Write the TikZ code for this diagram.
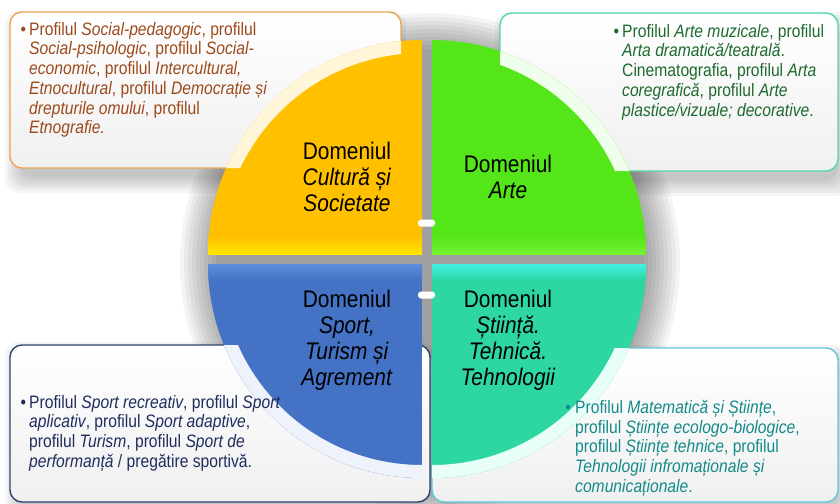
\documentclass[tikz,border=0pt]{standalone}
\usepackage{fontspec}
\setmainfont{Liberation Sans}[FakeStretch=0.87]

\definecolor{gold}{HTML}{FFC000}
\definecolor{goldlight}{HTML}{FFE600}
\definecolor{goldrim}{HTML}{FFF6DA}
\definecolor{arts}{HTML}{55E619}
\definecolor{artslight}{HTML}{72F232}
\definecolor{artsrim}{HTML}{F0FFEC}
\definecolor{sport}{HTML}{4472C4}
\definecolor{sportlight}{HTML}{5E8EDC}
\definecolor{sportrim}{HTML}{EEF2FA}
\definecolor{science}{HTML}{2ED6A2}
\definecolor{sciencelight}{HTML}{40F0E6}
\definecolor{sciencerim}{HTML}{E8FFF8}
\definecolor{culturebd}{HTML}{EBA653}
\definecolor{artsbd}{HTML}{52D8A4}
\definecolor{sportbd}{HTML}{2B4470}
\definecolor{sciencebd}{HTML}{5EC8D8}
\definecolor{culturetx}{HTML}{9C4A1C}
\definecolor{artstx}{HTML}{1D6A2E}
\definecolor{sporttx}{HTML}{1F2D5E}
\definecolor{sciencetx}{HTML}{148A8A}
\definecolor{panelgray}{HTML}{F0F0F0}

\begin{document}
\begin{tikzpicture}[x=1pt, y=-1pt,
    profile/.style={anchor=north west, align=left, inner sep=0pt,
      font=\fontsize{18}{19.7}\selectfont},
    domaintitle/.style={anchor=north, align=center, inner sep=0pt,
      font=\fontsize{24}{26.3}\selectfont},
    panel/.style={rounded corners=12pt, line width=1.4pt,
      top color=white, bottom color=panelgray},
    softshadow/.style={fill=black, opacity=.04, rounded corners=14pt},
    pill/.style={fill=white, rounded corners=3pt, minimum width=17pt,
      minimum height=7pt, inner sep=0pt}]
    \useasboundingbox[fill=white] (0,0) rectangle (840,503);

    % Shadows
    \foreach \r in {0,4,...,36}
        \fill[black, opacity=.042] (430,263) circle[radius=214pt+\r pt];
    \foreach \s in {0,3,...,15} {
        \fill[softshadow] (20-\s,26-\s) rectangle (391+\s,178+\s);
        \fill[softshadow] (510-\s,27-\s) rectangle (838+\s,181+\s);
        \fill[softshadow] (20-\s,357-\s) rectangle (420+\s,510+\s);
        \fill[softshadow] (442-\s,360-\s) rectangle (838+\s,510+\s);
    }

    % Panels
    \draw[panel, draw=culturebd] (10,12) rectangle (401,168);
    \draw[panel, draw=artsbd] (500,13) rectangle (838,171);
    \draw[panel, draw=sportbd] (10,345) rectangle (430,502);
    \draw[panel, draw=sciencebd] (432,348) rectangle (838,502);

    % Quarter: Cultura si Societate
    \begin{scope}
        \clip (200,30) rectangle (422,254);
        \clip (422,254) circle[radius=214pt];
        \fill[gold] (200,30) rectangle (422,254);
        \shade[top color=gold, bottom color=goldlight] (200,236) rectangle (422,254);
        \clip[rounded corners=12pt] (10,12) rectangle (401,168);
        \draw[line width=26pt, goldrim] (422,254) circle[radius=214pt];
    \end{scope}

    % Quarter: Arte
    \begin{scope}
        \clip (432,30) rectangle (660,254);
        \clip (432,254) circle[radius=214pt];
        \fill[arts] (432,30) rectangle (660,254);
        \shade[top color=arts, bottom color=artslight] (432,236) rectangle (660,254);
        \clip[rounded corners=12pt] (500,13) rectangle (838,171);
        \draw[line width=26pt, artsrim] (432,254) circle[radius=214pt];
    \end{scope}

    % Quarter: Sport, Turism si Agrement
    \begin{scope}
        \clip (200,264) rectangle (422,490);
        \clip (422,264) circle[radius=214pt];
        \fill[sport] (200,264) rectangle (422,490);
        \shade[top color=sportlight, bottom color=sport] (200,264) rectangle (422,280);
        \clip[rounded corners=12pt] (10,345) rectangle (430,502);
        \draw[line width=26pt, sportrim] (422,264) circle[radius=214pt];
    \end{scope}

    % Quarter: Stiinta. Tehnica. Tehnologii
    \begin{scope}
        \clip (432,264) rectangle (660,490);
        \clip (432,264) circle[radius=214pt];
        \fill[science] (432,264) rectangle (660,490);
        \shade[top color=sciencelight, bottom color=science] (432,264) rectangle (660,280);
        \clip[rounded corners=12pt] (432,348) rectangle (838,502);
        \draw[line width=26pt, sciencerim] (432,264) circle[radius=214pt];
    \end{scope}

    % Links in the middle
    \node[pill] (pilltop) at (426.5,223) {};
    \node[pill] (pillbottom) at (426.5,295) {};

    % Domain names
    \node[domaintitle] (cultura) at (347,141.5) {Domeniul\\\textit{Cultură și}\\\textit{Societate}};
    \node[domaintitle] (arte) at (508,154.5) {Domeniul\\\textit{Arte}};
    \node[domaintitle] (sport) at (347,289.5) {Domeniul\\\textit{Sport,}\\\textit{Turism și}\\\textit{Agrement}};
    \node[domaintitle] (stiinta) at (508,289.5) {Domeniul\\\textit{Știință.}\\\textit{Tehnică.}\\\textit{Tehnologii}};

    % Profiles
    \node[profile, text=culturetx] (culturaprof) at (29,22) {\llap{\textbullet\,}Profilul \textit{Social-pedagogic}, profilul\\
        \textit{Social-psihologic}, profilul \textit{Social-}\\
        \textit{economic}, profilul \textit{Intercultural,}\\
        \textit{Etnocultural}, profilul \textit{Democrație și}\\
        \textit{drepturile omului}, profilul\\
        \textit{Etnografie.}};
    \node[profile, text=artstx] (arteprof) at (622,24) {\llap{\textbullet\,}Profilul \textit{Arte muzicale}, profilul\\
        \textit{Arta dramatică/teatrală}.\\
        Cinematografia, profilul \textit{Arta}\\
        \textit{coregrafică}, profilul \textit{Arte}\\
        \textit{plastice/vizuale; decorative}.};
    \node[profile, text=sporttx] (sportprof) at (29,395) {\llap{\textbullet\,}Profilul \textit{Sport recreativ}, profilul \textit{Sport}\\
        \textit{aplicativ}, profilul \textit{Sport adaptive},\\
        profilul \textit{Turism}, profilul \textit{Sport de}\\
        \textit{performanță} / pregătire sportivă.};
    \node[profile, text=sciencetx] (stiintaprof) at (575,400) {\llap{\textbullet\ }Profilul \textit{Matematică și Științe},\\
        profilul \textit{Științe ecologo-biologice},\\
        profilul \textit{Științe tehnice}, profilul\\
        \textit{Tehnologii infromaționale și}\\
        \textit{comunicaționale}.};
\end{tikzpicture}
\end{document}
